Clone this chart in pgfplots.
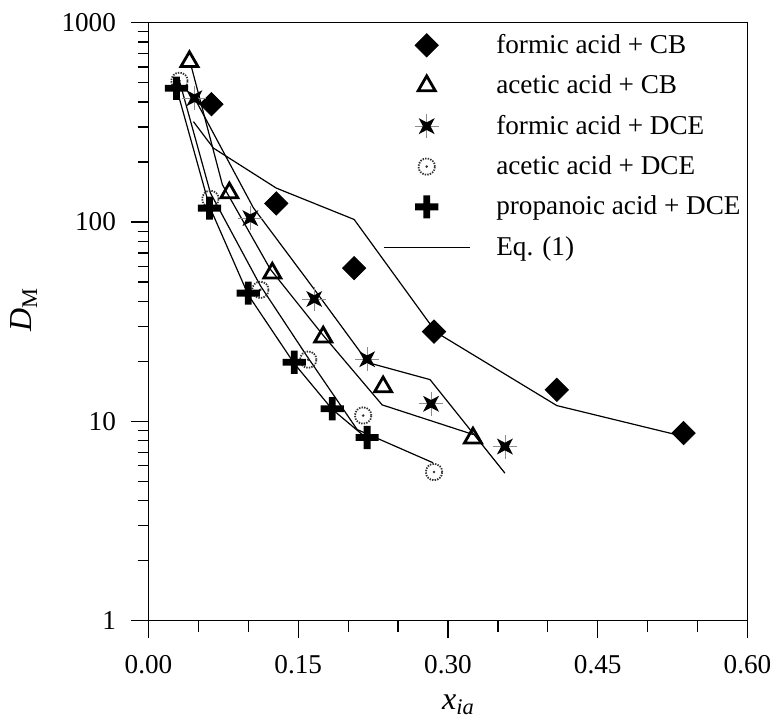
\documentclass[border=0pt]{standalone}
\usepackage{fontspec}
\setmainfont{Liberation Serif}
\usepackage{pgfplots}
\pgfplotsset{compat=1.18}
\usetikzlibrary{calc}

% star with a thin grey cross
\pgfdeclareplotmark{xstar}{%
  \pgfsetlinewidth{0.4pt}%
  \pgfsetstrokecolor{black!45}%
  \pgfpathmoveto{\pgfqpoint{-6pt}{0pt}}\pgfpathlineto{\pgfqpoint{6pt}{0pt}}%
  \pgfpathmoveto{\pgfqpoint{0pt}{-6pt}}\pgfpathlineto{\pgfqpoint{0pt}{6pt}}%
  \pgfusepath{stroke}%
  \pgfsetfillcolor{black}%
  \pgfpathmoveto{\pgfqpoint{4pt}{4pt}}%
  \pgfpathlineto{\pgfqpoint{1.9pt}{0pt}}%
  \pgfpathlineto{\pgfqpoint{4pt}{-4pt}}%
  \pgfpathlineto{\pgfqpoint{0pt}{-1.9pt}}%
  \pgfpathlineto{\pgfqpoint{-4pt}{-4pt}}%
  \pgfpathlineto{\pgfqpoint{-1.9pt}{0pt}}%
  \pgfpathlineto{\pgfqpoint{-4pt}{4pt}}%
  \pgfpathlineto{\pgfqpoint{0pt}{1.9pt}}%
  \pgfpathclose
  \pgfusepath{fill}%
}
% dotted circle with a centre dot
\pgfdeclareplotmark{dcirc}{%
  \pgfsetlinewidth{0.9pt}%
  \pgfsetstrokecolor{black!80}%
  \pgfsetdash{{0.7pt}{0.6pt}}{0pt}%
  \pgfpathcircle{\pgfpointorigin}{4.1pt}%
  \pgfusepath{stroke}%
  \pgfsetdash{}{0pt}%
  \pgfsetfillcolor{black!80}%
  \pgfpathcircle{\pgfpointorigin}{0.7pt}%
  \pgfusepath{fill}%
}
% heavy plus
\pgfdeclareplotmark{hplus}{%
  \pgfsetfillcolor{black}%
  \pgfpathrectangle{\pgfqpoint{-5.8pt}{-1.7pt}}{\pgfqpoint{11.6pt}{3.4pt}}%
  \pgfpathrectangle{\pgfqpoint{-1.7pt}{-5.8pt}}{\pgfqpoint{3.4pt}{11.6pt}}%
  \pgfusepath{fill}%
}

\begin{document}
\begin{tikzpicture}
\begin{axis}[
  scale only axis,
  width=299.5pt, height=299pt,
  ymode=log,
  xmin=0, xmax=0.6, ymin=1, ymax=1000,
  xtick={0,0.15,0.30,0.45,0.60},
  minor x tick num=2,
  ytick={1,10,100,1000},
  yticklabels={1,10,100,1000},
  xticklabel style={yshift=-5pt, /pgf/number format/.cd, fixed, fixed zerofill, precision=2, assume math mode=true},
  yticklabel style={xshift=-4pt},
  tick align=outside,
  xtick pos=bottom, ytick pos=left,
  major tick length=8.75pt,
  minor tick length=5.5pt,
  tick style={black, line width=0.6pt},
  axis line style={line width=0.7pt},
  every tick label/.append style={font=\fontsize{13.6}{16}\selectfont},
  xlabel={\textit{x}\textsubscript{\textit{ia}}},
  ylabel={\textit{D}\textsubscript{M}},
  label style={font=\fontsize{16}{19}\selectfont},
  xlabel style={at={(axis description cs:0.5175,-0.1488)}, anchor=base},
  ylabel style={at={(axis description cs:-0.1945,0.52)}, anchor=base},
  legend image code/.code={%
    \draw[mark repeat=2,mark phase=2,#1] plot coordinates {(0pt,0pt)(21.5pt,0pt)(43pt,0pt)};},
  legend style={draw=none, fill=none, font=\fontsize{13.6}{16}\selectfont,
    at={(axis description cs:0.391,0.988)}, anchor=north west,
    row sep=5.2pt, column sep=11pt, inner sep=0pt},
  legend cell align=left,
]
\coordinate (bl) at (rel axis cs:0,0);
\coordinate (tr) at (rel axis cs:1,1);

% Eq. (1) curves
\addplot[black, line width=0.6pt, forget plot] coordinates {
  (0.045,319) (0.065,235) (0.128,148) (0.206,103) (0.288,28) (0.409,12) (0.536,8.4)};
\addplot[black, line width=0.6pt, forget plot] coordinates {
  (0.043,600) (0.074,154) (0.122,58) (0.175,27) (0.234,12.1) (0.325,8.6)};
\addplot[black, line width=0.6pt, forget plot] coordinates {
  (0.046,420) (0.105,118) (0.166,46) (0.220,19.7) (0.282,16.2) (0.357,5.5)};
\addplot[black, line width=0.6pt, forget plot] coordinates {
  (0.031,510) (0.062,140) (0.112,48) (0.158,21.5) (0.209,9.1) (0.285,6.2)};
\addplot[black, line width=0.6pt, forget plot] coordinates {
  (0.028,470) (0.061,120) (0.100,43) (0.146,19.5) (0.184,11.5) (0.214,8.6)};

% data
\addplot[only marks, mark=square*, mark size=4.1pt, mark options={rotate=45, black}] coordinates {
  (0.063,390) (0.128,124) (0.206,58.7) (0.286,28.2) (0.409,14.4) (0.536,8.74)};
\addlegendentry{formic acid + CB}
\addplot[only marks, mark=triangle, mark size=4.9pt, mark options={black, line width=1.4pt}] coordinates {
  (0.041,638) (0.081,140) (0.124,55.4) (0.175,26.5) (0.235,14.9) (0.325,8.25)};
\addlegendentry{acetic acid + CB}
\addplot[only marks, mark=xstar] coordinates {
  (0.046,418) (0.102,104.6) (0.166,41.1) (0.219,20.5) (0.283,12.25) (0.357,7.48)};
\addlegendentry{formic acid + DCE}
\addplot[only marks, mark=dcirc] coordinates {
  (0.031,511) (0.062,130.7) (0.112,45.7) (0.160,20.4) (0.215,10.7) (0.286,5.57)};
\addlegendentry{acetic acid + DCE}
\addplot[only marks, mark=hplus] coordinates {
  (0.028,469) (0.061,117.4) (0.100,44.0) (0.146,19.8) (0.184,11.57) (0.219,8.3)};
\addlegendentry{propanoic acid + DCE}
\addlegendimage{black, line width=0.6pt}
\addlegendentry{Eq. (1)}
\end{axis}
\pgfresetboundingbox
\path ($(bl)+(-74.25pt,-48.5pt)$) rectangle ($(tr)+(12.75pt,11.35pt)$);
\end{tikzpicture}
\end{document}
